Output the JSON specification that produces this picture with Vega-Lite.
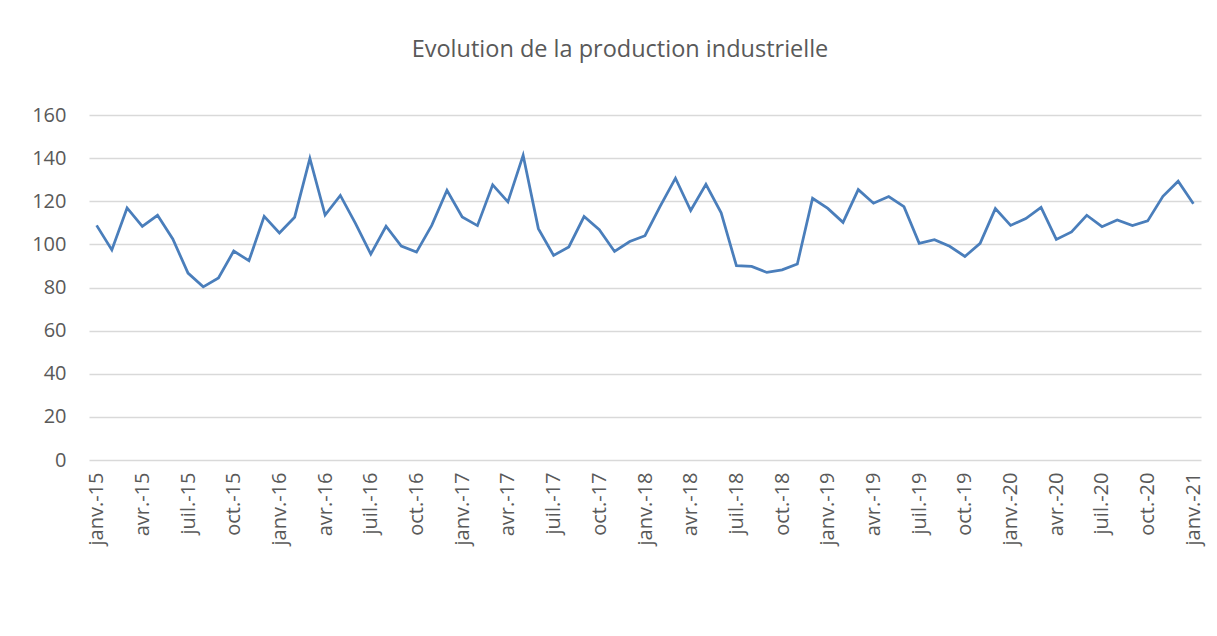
{
  "$schema": "https://vega.github.io/schema/vega-lite/v6.json",
  "width": 1112,
  "height": 345,
  "autosize": "none",
  "padding": {"left": 89, "top": 115, "right": 16, "bottom": 176},
  "background": "white",
  "title": {
    "text": "Evolution de la production industrielle",
    "font": "Open Sans",
    "fontSize": 23.5,
    "fontWeight": "normal",
    "color": "#595959",
    "anchor": "middle",
    "baseline": "alphabetic",
    "dx": -25,
    "offset": 25
  },
  "data": {
    "values": [
      {"mois": "janv.-15", "valeur": 108.8}, {"mois": "févr.-15", "valeur": 97.4}, {"mois": "mars-15", "valeur": 116.9},
      {"mois": "avr.-15", "valeur": 108.4}, {"mois": "mai-15", "valeur": 113.5}, {"mois": "juin-15", "valeur": 102.5},
      {"mois": "juil.-15", "valeur": 86.7}, {"mois": "août-15", "valeur": 80.3}, {"mois": "sept.-15", "valeur": 84.4},
      {"mois": "oct.-15", "valeur": 96.9}, {"mois": "nov.-15", "valeur": 92.4}, {"mois": "déc.-15", "valeur": 113.0},
      {"mois": "janv.-16", "valeur": 105.3}, {"mois": "févr.-16", "valeur": 112.6}, {"mois": "mars-16", "valeur": 139.9},
      {"mois": "avr.-16", "valeur": 113.6}, {"mois": "mai-16", "valeur": 122.7}, {"mois": "juin-16", "valeur": 109.6},
      {"mois": "juil.-16", "valeur": 95.5}, {"mois": "août-16", "valeur": 108.4}, {"mois": "sept.-16", "valeur": 99.2},
      {"mois": "oct.-16", "valeur": 96.4}, {"mois": "nov.-16", "valeur": 108.8}, {"mois": "déc.-16", "valeur": 125.1},
      {"mois": "janv.-17", "valeur": 112.7}, {"mois": "févr.-17", "valeur": 108.7}, {"mois": "mars-17", "valeur": 127.6},
      {"mois": "avr.-17", "valeur": 119.7}, {"mois": "mai-17", "valeur": 141.3}, {"mois": "juin-17", "valeur": 107.3},
      {"mois": "juil.-17", "valeur": 94.9}, {"mois": "août-17", "valeur": 98.8}, {"mois": "sept.-17", "valeur": 112.9},
      {"mois": "oct.-17", "valeur": 106.8}, {"mois": "nov.-17", "valeur": 96.7}, {"mois": "déc.-17", "valeur": 101.3},
      {"mois": "janv.-18", "valeur": 104.0}, {"mois": "févr.-18", "valeur": 117.7}, {"mois": "mars-18", "valeur": 130.7},
      {"mois": "avr.-18", "valeur": 115.7}, {"mois": "mai-18", "valeur": 127.8}, {"mois": "juin-18", "valeur": 114.6},
      {"mois": "juil.-18", "valeur": 90.1}, {"mois": "août-18", "valeur": 89.8}, {"mois": "sept.-18", "valeur": 87.0},
      {"mois": "oct.-18", "valeur": 88.2}, {"mois": "nov.-18", "valeur": 90.9}, {"mois": "déc.-18", "valeur": 121.4},
      {"mois": "janv.-19", "valeur": 116.7}, {"mois": "févr.-19", "valeur": 110.2}, {"mois": "mars-19", "valeur": 125.4},
      {"mois": "avr.-19", "valeur": 119.1}, {"mois": "mai-19", "valeur": 122.2}, {"mois": "juin-19", "valeur": 117.5},
      {"mois": "juil.-19", "valeur": 100.5}, {"mois": "août-19", "valeur": 102.2}, {"mois": "sept.-19", "valeur": 99.1},
      {"mois": "oct.-19", "valeur": 94.4}, {"mois": "nov.-19", "valeur": 100.5}, {"mois": "déc.-19", "valeur": 116.6},
      {"mois": "janv.-20", "valeur": 108.8}, {"mois": "févr.-20", "valeur": 112.0}, {"mois": "mars-20", "valeur": 117.2},
      {"mois": "avr.-20", "valeur": 102.3}, {"mois": "mai-20", "valeur": 105.8}, {"mois": "juin-20", "valeur": 113.5},
      {"mois": "juil.-20", "valeur": 108.2}, {"mois": "août-20", "valeur": 111.3}, {"mois": "sept.-20", "valeur": 108.7},
      {"mois": "oct.-20", "valeur": 110.9}, {"mois": "nov.-20", "valeur": 122.3}, {"mois": "déc.-20", "valeur": 129.3},
      {"mois": "janv.-21", "valeur": 118.8}
    ]
  },
  "mark": {"type": "line", "color": "#4A7EBB", "strokeWidth": 2.75, "strokeJoin": "miter"},
  "encoding": {
    "x": {
      "field": "mois",
      "type": "ordinal",
      "sort": null,
      "scale": {"type": "point", "padding": 0.5},
      "axis": {
        "title": null,
        "values": ["janv.-15", "avr.-15", "juil.-15", "oct.-15", "janv.-16", "avr.-16", "juil.-16", "oct.-16", "janv.-17", "avr.-17", "juil.-17", "oct.-17", "janv.-18", "avr.-18", "juil.-18", "oct.-18", "janv.-19", "avr.-19", "juil.-19", "oct.-19", "janv.-20", "avr.-20", "juil.-20", "oct.-20", "janv.-21"],
        "labelAngle": -90,
        "labelAlign": "right",
        "labelBaseline": "middle",
        "labelPadding": 12,
        "labelFont": "Open Sans",
        "labelFontSize": 20,
        "labelColor": "#595959",
        "labelOverlap": false,
        "domain": false,
        "ticks": false,
        "grid": false
      }
    },
    "y": {
      "field": "valeur",
      "type": "quantitative",
      "scale": {"domain": [0, 160], "nice": false},
      "axis": {
        "title": null,
        "values": [0, 20, 40, 60, 80, 100, 120, 140, 160],
        "labelPadding": 23,
        "labelFont": "Open Sans",
        "labelFontSize": 20,
        "labelColor": "#595959",
        "domain": false,
        "ticks": false,
        "grid": true,
        "gridColor": "#D9D9D9",
        "gridWidth": 1.5
      }
    }
  },
  "config": {"view": {"stroke": null}}
}
